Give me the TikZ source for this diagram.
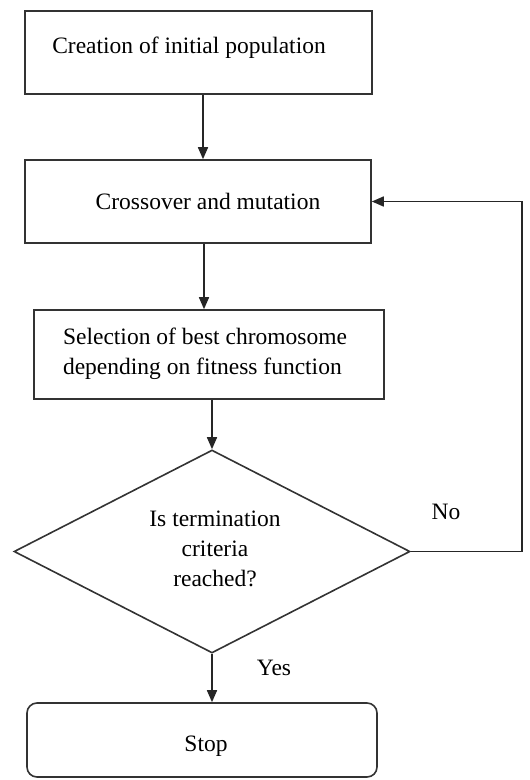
\documentclass[tikz,border=0pt]{standalone}
\usepackage{fontspec}
\setmainfont{Liberation Serif}
\usetikzlibrary{shapes.geometric,arrows.meta,calc}
\begin{document}
\begin{tikzpicture}[x=1pt,y=-1pt,
  every node/.style={font=\fontsize{23.5}{30}\selectfont, text=black},
  boxnode/.style={draw=black!80, line width=1.6pt, rectangle, inner sep=0pt, align=center},
  decide/.style={draw=black!80, line width=1.6pt, diamond, inner sep=0pt, align=center, minimum width=396pt, minimum height=203pt},
  arr/.style={draw=black!85, line width=1.6pt, -{Triangle[length=12pt,width=10pt]}},
  lbl/.style={inner sep=0pt}
]
\useasboundingbox (0,0) rectangle (530,780);
\node[boxnode, minimum width=347pt, minimum height=83pt] (b1) at (198.5,52.5) {};
\node[lbl] (t1) at (189,48) {Creation of initial population};
\node[boxnode, minimum width=346pt, minimum height=83pt] (b2) at (198,201.5) {};
\node[lbl] (t2) at (208,201) {Crossover and mutation};
\node[boxnode, minimum width=350pt, minimum height=89pt] (b3) at (209,354.5) {};
\node[lbl, align=left] (t3) at (205,354) {Selection of best chromosome\\depending on fitness function};
\node[decide] (d) at (212,551.5) {};
\node[lbl, align=center] (t4) at (215,549) {Is termination\\criteria\\reached?};
\node[boxnode, rounded corners=10pt, minimum width=350pt, minimum height=74pt] (s) at (202,740) {};
\node[lbl] (t5) at (206,746) {Stop};
\node[lbl] (no) at (446,512) {No};
\node[lbl] (yes) at (274,668) {Yes};
\draw[arr] ([xshift=4.5pt]b1.south) -- ([xshift=4.5pt]b1.south |- b2.north);
\draw[arr] ([xshift=6pt]b2.south) -- ([xshift=6pt]b2.south |- b3.north);
\draw[arr] (b3.south -| d.north) -- (d.north);
\draw[arr] (d.south) -- (d.south |- s.north);
\coordinate (c1) at (522,551.5);
\coordinate (c2) at (522,201.5);
\draw[arr] (d.east) -- (c1) -- (c2) -- (b2.east);
\end{tikzpicture}
\end{document}
